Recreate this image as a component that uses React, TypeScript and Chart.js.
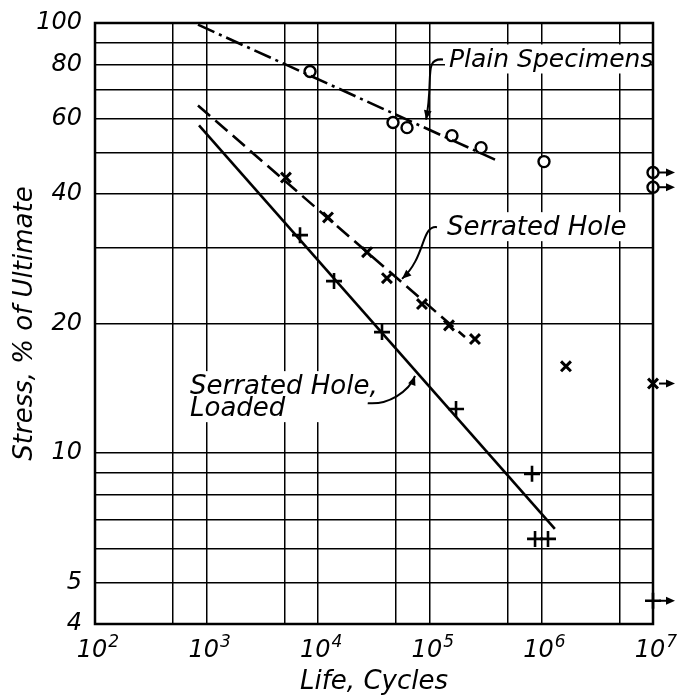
import React, { useEffect, useRef } from 'react';
import { Chart, registerables } from 'chart.js';

Chart.register(...registerables);

// ---- axes ----
const xGridValues = [100, 500, 1e3, 5e3, 1e4, 5e4, 1e5, 5e5, 1e6, 5e6, 1e7];
const xTickDecades = [100, 1e3, 1e4, 1e5, 1e6, 1e7];
const xTickExponents = ['2', '3', '4', '5', '6', '7'];
const yGridValues = [4, 5, 6, 7, 8, 9, 10, 20, 30, 40, 50, 60, 70, 80, 90, 100];
const yTickLabels = [4, 5, 10, 20, 40, 60, 80, 100];

// ---- Plain specimens (circles) ----
const plainLife = [8450, 46800, 62500, 158000, 288000, 1055000];
const plainStress = [77.1, 58.7, 57.1, 54.7, 51.3, 47.6];
const plainRunoutLife = [1e7, 1e7];
const plainRunoutStress = [44.9, 41.5];
const plainFitLife = [837, 384000];
const plainFitStress = [99.1, 48.1];

// ---- Serrated hole (x) ----
const holeLife = [5140, 12240, 27400, 41300, 85100, 148600, 254000, 1660000];
const holeStress = [43.7, 35.3, 29.3, 25.5, 22.2, 19.8, 18.4, 15.9];
const holeRunoutLife = [1e7];
const holeRunoutStress = [14.5];
const holeFitLife = [837, 206600];
const holeFitStress = [64.3, 18.6];

// ---- Serrated hole, loaded (+) ----
const loadedLife = [6870, 13860, 37300, 171800, 824000, 877000, 1146000];
const loadedStress = [32.1, 25.1, 19.1, 12.65, 8.94, 6.31, 6.31];
const loadedRunoutLife = [1e7];
const loadedRunoutStress = [4.53];
const loadedFitLife = [855, 1320000];
const loadedFitStress = [57.8, 6.66];

// ---- annotations (data coordinates) ----
const annotTexts = [['Plain Specimens'], ['Serrated Hole'], ['Serrated Hole,', 'Loaded']];
const annotFontSizes = [25, 26, 26];
const annotLife = [148600, 142600, 710];
const annotStress = [78.8, 32.1, 13.7];
const leaderTipLife = [92500, 56400, 73700];
const leaderTipStress = [59.6, 25.4, 15.1];

const FONT = '"DejaVu Sans", sans-serif';

const pts = (xs: number[], ys: number[]) => xs.map((x, i) => ({ x, y: ys[i] }));

export default function App() {
  const ref = useRef<HTMLCanvasElement | null>(null);

  useEffect(() => {
    document.body.style.margin = '0';
    const canvas = ref.current;
    if (!canvas) return;

    const decor = {
      id: 'decor',
      beforeDatasetsDraw(chart: any) {
        const { ctx, scales } = chart;
        const xs = scales.x, ys = scales.y;
        ctx.save();
        ctx.textBaseline = 'alphabetic';
        ctx.textAlign = 'left';
        annotTexts.forEach((lines, i) => {
          ctx.font = `italic ${annotFontSizes[i]}px ${FONT}`;
          const px = xs.getPixelForValue(annotLife[i]);
          const py = ys.getPixelForValue(annotStress[i]);
          const lh = 22;
          const w = Math.max(...lines.map((l) => ctx.measureText(l).width));
          ctx.fillStyle = '#fff';
          ctx.fillRect(px - 4, py - 23, Math.min(w + 8, chart.chartArea.right - 2 - (px - 4)), 29 + lh * (lines.length - 1));
          ctx.fillStyle = '#000';
          lines.forEach((l, j) => ctx.fillText(l, px, py + j * lh));
          // leader
          const tx = xs.getPixelForValue(leaderTipLife[i]);
          const ty = ys.getPixelForValue(leaderTipStress[i]);
          let sx: number, sy: number, c1x: number, c1y: number, c2x: number, c2y: number;
          if (i === 0) {
            sx = px - 6; sy = py - 8; c1x = sx - 20; c1y = sy - 2; c2x = tx + 8; c2y = ty - 40;
          } else if (i === 1) {
            sx = px - 10; sy = py - 8; c1x = sx - 16; c1y = sy - 2; c2x = tx + 24; c2y = ty - 22;
          } else {
            const w0 = ctx.measureText(lines[0]).width;
            sx = px + w0 - 10; sy = py + 9; c1x = sx + 20; c1y = sy + 2; c2x = tx - 6; c2y = ty + 16;
          }
          ctx.strokeStyle = '#000';
          ctx.lineWidth = 2;
          ctx.beginPath();
          ctx.moveTo(sx, sy);
          ctx.bezierCurveTo(c1x, c1y, c2x, c2y, tx, ty);
          ctx.stroke();
          const ang = Math.atan2(ty - c2y, tx - c2x);
          ctx.fillStyle = '#000';
          ctx.beginPath();
          ctx.moveTo(tx, ty);
          ctx.lineTo(tx - 10 * Math.cos(ang - 0.4), ty - 10 * Math.sin(ang - 0.4));
          ctx.lineTo(tx - 10 * Math.cos(ang + 0.4), ty - 10 * Math.sin(ang + 0.4));
          ctx.closePath();
          ctx.fill();
        });
        ctx.restore();
      },
      afterDatasetsDraw(chart: any) {
        const { ctx, chartArea, scales } = chart;
        ctx.save();
        ctx.strokeStyle = '#000';
        ctx.lineWidth = 2.5;
        ctx.strokeRect(chartArea.left, chartArea.top, chartArea.right - chartArea.left, chartArea.bottom - chartArea.top);
        // run-out arrows
        const runouts = [
          ...pts(plainRunoutLife, plainRunoutStress),
          ...pts(holeRunoutLife, holeRunoutStress),
          ...pts(loadedRunoutLife, loadedRunoutStress),
        ];
        ctx.lineWidth = 2;
        ctx.fillStyle = '#000';
        runouts.forEach((p) => {
          const x = scales.x.getPixelForValue(p.x);
          const y = scales.y.getPixelForValue(p.y);
          ctx.beginPath();
          ctx.moveTo(x + 6, y);
          ctx.lineTo(x + 15, y);
          ctx.stroke();
          ctx.beginPath();
          ctx.moveTo(x + 22, y);
          ctx.lineTo(x + 13, y - 4);
          ctx.lineTo(x + 13, y + 4);
          ctx.closePath();
          ctx.fill();
        });
        // x tick labels: 10 with superscript exponent
        ctx.textBaseline = 'alphabetic';
        xTickDecades.forEach((v, i) => {
          const x = scales.x.getPixelForValue(v) + 3;
          ctx.font = `italic 24px ${FONT}`;
          const wBase = ctx.measureText('10').width;
          ctx.font = `italic 17px ${FONT}`;
          const wExp = ctx.measureText(xTickExponents[i]).width;
          const left = x - (wBase + wExp + 1) / 2;
          ctx.font = `italic 24px ${FONT}`;
          ctx.textAlign = 'left';
          ctx.fillText('10', left, chartArea.bottom + 33);
          ctx.font = `italic 17px ${FONT}`;
          ctx.fillText(xTickExponents[i], left + wBase + 1, chartArea.bottom + 23);
        });
        ctx.restore();
      },
    };

    const tickFont = { family: FONT, size: 24, style: 'italic' as const };
    const titleFont = { family: FONT, size: 26, style: 'italic' as const };

    const lineDs = (data: any[], dash: number[]) => ({
      type: 'line' as const,
      data,
      showLine: true,
      borderColor: '#000',
      borderWidth: 2.6,
      borderDash: dash,
      pointRadius: 0,
      fill: false,
      clip: false as any,
    });
    const markDs = (data: any[], style: string, radius: number, bw: number) => ({
      type: 'scatter' as const,
      data,
      showLine: false,
      pointStyle: style,
      pointRadius: radius,
      pointBorderWidth: bw,
      borderColor: '#000',
      backgroundColor: '#fff',
      pointBackgroundColor: '#fff',
      pointBorderColor: '#000',
      clip: false as any,
    });

    const chart = new Chart(canvas, {
      type: 'scatter',
      data: {
        datasets: [
          lineDs(pts(plainFitLife, plainFitStress), [18, 5, 3, 5]),
          lineDs(pts(holeFitLife, holeFitStress), [16, 7]),
          lineDs(pts(loadedFitLife, loadedFitStress), []),
          markDs(pts(plainLife, plainStress), 'circle', 5.5, 2.4),
          markDs(pts(plainRunoutLife, plainRunoutStress), 'circle', 5.5, 2.4),
          markDs(pts(holeLife, holeStress), 'crossRot', 7, 3),
          markDs(pts(holeRunoutLife, holeRunoutStress), 'crossRot', 7, 3),
          markDs(pts(loadedLife, loadedStress), 'cross', 8, 2.6),
          markDs(pts(loadedRunoutLife, loadedRunoutStress), 'cross', 8, 2.6),
        ] as any,
      },
      options: {
        responsive: false,
        animation: false,
        layout: { padding: { top: 23, right: 25, left: 0, bottom: 0 } },
        plugins: { legend: { display: false }, tooltip: { enabled: false } },
        scales: {
          x: {
            type: 'logarithmic',
            min: 100,
            max: 1e7,
            afterBuildTicks: (s: any) => {
              s.ticks = xGridValues.map((v) => ({ value: v }));
            },
            afterFit: (s: any) => {
              s.height = 75;
              s.paddingLeft = 0;
              s.paddingRight = 0;
            },
            ticks: {
              autoSkip: false,
              maxRotation: 0,
              padding: 8,
              color: '#000',
              font: tickFont,
              callback: () => '',
            },
            grid: { color: '#000', lineWidth: 1.5, drawTicks: false },
            border: { display: false },
            title: {
              display: true,
              text: 'Life, Cycles',
              color: '#000',
              font: titleFont,
              padding: { top: 0, bottom: 1 },
            },
          },
          y: {
            type: 'logarithmic',
            min: 4,
            max: 100,
            afterBuildTicks: (s: any) => {
              s.ticks = yGridValues.map((v) => ({ value: v }));
            },
            afterFit: (s: any) => {
              s.width = 95;
              s.paddingTop = 0;
              s.paddingBottom = 0;
            },
            ticks: {
              autoSkip: false,
              padding: 13,
              color: '#000',
              font: tickFont,
              callback: (v: any) => (yTickLabels.includes(Math.round(Number(v))) ? String(Math.round(Number(v))) : ''),
            },
            grid: { color: '#000', lineWidth: 1.5, drawTicks: false },
            border: { display: false },
            title: {
              display: true,
              text: 'Stress, % of Ultimate',
              color: '#000',
              font: titleFont,
              padding: { top: 10, bottom: 0 },
            },
          },
        },
      },
      plugins: [decor],
    } as any);

    return () => chart.destroy();
  }, []);

  return (
    <div style={{ width: 678, height: 699, background: '#fff' }}>
      <canvas ref={ref} width={678} height={699} style={{ display: 'block' }} />
    </div>
  );
}
